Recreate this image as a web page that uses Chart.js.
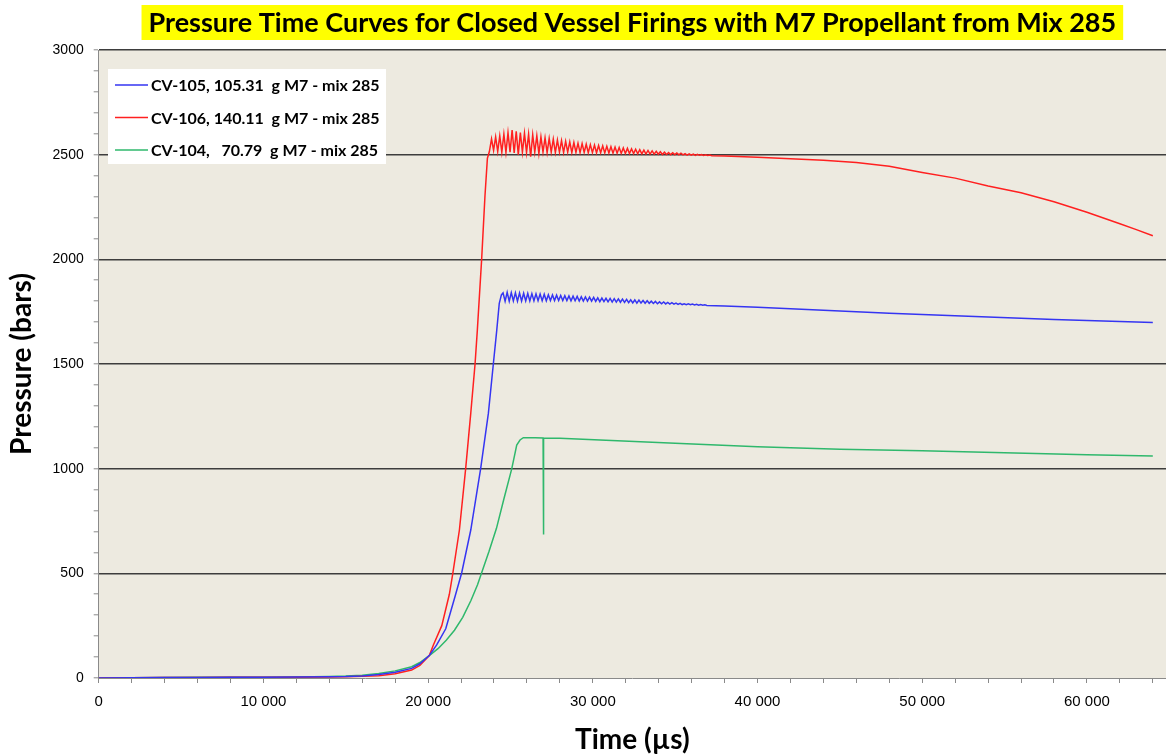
<!DOCTYPE html>
<html>
<head>
<meta charset="utf-8">
<script src="https://cdn.jsdelivr.net/npm/chart.js@4.4.0/dist/chart.umd.min.js"></script>
<style>
    html, body { margin: 0; padding: 0; background: #fff; }
    #wrap { width: 1166px; height: 756px; position: relative; }
</style>
</head>
<body>
<div id="wrap"><canvas id="chartPresion"></canvas></div>
<script>
const tituloGrafico = 'Pressure Time Curves for Closed Vessel Firings with M7 Propellant from Mix 285';
const seriesLabels = [
    'CV-105, 105.31  g M7 - mix 285',
    'CV-106, 140.11  g M7 - mix 285',
    'CV-104,   70.79  g M7 - mix 285'
];
const seriesColors = ['#3535f2', '#ff2020', '#2fb86c'];

// marcas del eje x (cada 2000 us, etiqueta cada 10000)
const xTickValues = [0, 2000, 4000, 6000, 8000, 10000, 12000, 14000, 16000, 18000, 20000, 22000, 24000,
    26000, 28000, 30000, 32000, 34000, 36000, 38000, 40000, 42000, 44000, 46000, 48000, 50000,
    52000, 54000, 56000, 58000, 60000, 62000, 64000];

// CV-105 (azul)
const blueTime = [0, 2000, 4000, 6000, 8000, 10000, 12000, 14000, 15000, 16000, 17000, 18000, 19000, 19500,
    20070, 20520, 21070, 21630, 22040, 22590, 23190, 23660, 23960, 24170, 24320, 24450,
    24550, 24675, 24800, 24925,
    25050, 25175, 25300, 25425, 25550, 25675, 25800, 25925, 26050, 26175, 26300, 26425, 26550, 26675, 26800, 26925,
    27050, 27175, 27300, 27425, 27550, 27675, 27800, 27925, 28050, 28175, 28300, 28425, 28550, 28675, 28800, 28925,
    29050, 29175, 29300, 29425, 29550, 29675, 29800, 29925, 30050, 30175, 30300, 30425, 30550, 30675, 30800, 30925,
    31050, 31175, 31300, 31425, 31550, 31675, 31800, 31925, 32050, 32175, 32300, 32425, 32550, 32675, 32800, 32925,
    33050, 33175, 33300, 33425, 33550, 33675, 33800, 33925, 34050, 34175, 34300, 34425, 34550, 34675, 34800, 34925,
    35050, 35175, 35300, 35425, 35550, 35675, 35800, 35925, 36050, 36175, 36300, 36425, 36550, 36675, 36800, 36925,
    38000, 40000, 42000, 44000, 46000, 48000, 50000, 52000, 54000, 56000, 58000, 60000, 62000, 64000];
const bluePressure = [0, 1, 2, 2, 3, 4, 5, 6, 7, 10, 17, 27, 46, 68,
    107, 158, 235, 388, 503, 707, 1000, 1265, 1500, 1663, 1790, 1830,
    1840, 1800, 1842, 1800,
    1841, 1801, 1840, 1800, 1839, 1801, 1838, 1801, 1837, 1801, 1836, 1802, 1835, 1802, 1834, 1802,
    1833, 1802, 1831, 1803, 1830, 1803, 1829, 1803, 1827, 1803, 1826, 1803, 1825, 1802, 1824, 1802,
    1823, 1801, 1821, 1801, 1820, 1800, 1819, 1800, 1818, 1799, 1816, 1798, 1815, 1798, 1814, 1797,
    1813, 1796, 1812, 1796, 1811, 1795, 1810, 1794, 1809, 1793, 1807, 1792, 1806, 1791, 1805, 1791,
    1803, 1790, 1802, 1790, 1800, 1789, 1799, 1788, 1797, 1788, 1796, 1787, 1794, 1786, 1793, 1786,
    1791, 1785, 1790, 1784, 1788, 1783, 1787, 1783, 1786, 1782, 1785, 1781, 1784, 1781, 1783, 1780,
    1777, 1771, 1764, 1757, 1750, 1743, 1736, 1730, 1724, 1718, 1713, 1708, 1703, 1698];

// CV-106 (rojo)
const redTime = [0, 2000, 4000, 6000, 8000, 10000, 12000, 14000, 15000, 16000, 17000, 18000, 19000, 19500,
    20070, 20320, 20830, 21290, 21490, 21900, 22280, 22590, 22850, 22990, 23250, 23450, 23600, 23720,
    23850, 23975, 24100, 24225, 24350, 24475, 24600, 24725, 24850, 24975,
    25100, 25225, 25350, 25475, 25600, 25725, 25850, 25975, 26100, 26225, 26350, 26475, 26600, 26725, 26850, 26975,
    27100, 27225, 27350, 27475, 27600, 27725, 27850, 27975, 28100, 28225, 28350, 28475, 28600, 28725, 28850, 28975,
    29100, 29225, 29350, 29475, 29600, 29725, 29850, 29975, 30100, 30225, 30350, 30475, 30600, 30725, 30850, 30975,
    31100, 31225, 31350, 31475, 31600, 31725, 31850, 31975, 32100, 32225, 32350, 32475, 32600, 32725, 32850, 32975,
    33100, 33225, 33350, 33475, 33600, 33725, 33850, 33975, 34100, 34225, 34350, 34475, 34600, 34725, 34850, 34975,
    35100, 35225, 35350, 35475, 35600, 35725, 35850, 35975, 36100, 36225, 36350, 36475, 36600, 36725, 36850, 36975,
    37100, 37225,
    38000, 40000, 42000, 44000, 46000, 48000, 50000, 52000, 54000, 56000, 58000, 60000, 62000, 63000, 64000];
const redPressure = [0, 1, 2, 2, 3, 4, 4, 5, 6, 8, 11, 20, 38, 60,
    107, 158, 250, 400, 495, 707, 1000, 1265, 1500, 1663, 2000, 2300, 2483, 2515,
    2575, 2520, 2585, 2515, 2590, 2512, 2598, 2510, 2605, 2512,
    2618, 2508, 2612, 2500, 2605, 2512, 2602, 2510, 2598, 2490, 2595, 2512, 2590, 2505, 2585, 2512,
    2580, 2510, 2578, 2512, 2574, 2510, 2570, 2512, 2567, 2510, 2564, 2512, 2561, 2510, 2558, 2511,
    2555, 2510, 2553, 2511, 2550, 2510, 2548, 2510, 2546, 2509, 2544, 2509, 2542, 2508, 2540, 2508,
    2538, 2507, 2536, 2507, 2534, 2506, 2532, 2506, 2530, 2505, 2528, 2505, 2526, 2504, 2524, 2504,
    2522, 2503, 2520, 2503, 2518, 2502, 2516, 2502, 2514, 2501, 2512, 2501, 2510, 2500, 2509, 2500,
    2508, 2499, 2507, 2499, 2505, 2498, 2504, 2498, 2503, 2497, 2502, 2497, 2500, 2496, 2499, 2496,
    2498, 2495,
    2494, 2488, 2481, 2473, 2463, 2445, 2415, 2388, 2350, 2318, 2275, 2225, 2170, 2142, 2113];

// CV-104 (verde)
const greenTime = [0, 2000, 4000, 6000, 8000, 10000, 12000, 14000, 15000, 16000, 17000, 18000, 19000, 19500,
    20070, 20600, 21100, 21600, 22100, 22600, 23000, 23250,
    23700, 24150, 24600, 25080, 25380, 25580, 25780,
    26500, 26980, 27000, 27020, 28000, 30440,
    35000, 40000, 45000, 50000, 55000, 60000, 64000];
const greenPressure = [0, 1, 2, 3, 3, 4, 5, 7, 9, 13, 22, 34, 54, 74,
    107, 140, 180, 228, 290, 370, 445, 503,
    605, 715, 855, 1000, 1113, 1137, 1148,
    1148, 1147, 686, 1147, 1145, 1137,
    1122, 1105, 1093, 1085, 1076, 1067, 1061];

const xMax = 64800;
const yMax = 3000;

function puntos(tiempos, presiones) {
    return tiempos.map((t, i) => ({ x: t, y: presiones[i] }));
}

function formatoMiles(v) {
    return String(v).replace(/\B(?=(\d{3})+(?!\d))/g, ' ');
}

// fondo del area, caja amarilla del titulo y leyenda dentro del grafico
const decoracionPlugin = {
    id: 'decoracion',
    beforeDraw(chart) {
        const { ctx, chartArea: a } = chart;
        ctx.save();
        ctx.fillStyle = '#edeae0';
        ctx.fillRect(a.left, a.top, a.right - a.left, a.bottom - a.top);

        const t = chart.titleBlock;
        const f = chart.options.plugins.title.font;
        ctx.font = `bold ${f.size}px ${f.family}`;
        const w = ctx.measureText(tituloGrafico).width;
        const cx = (t.left + t.right) / 2;
        ctx.fillStyle = '#ffff00';
        ctx.fillRect(cx - w / 2 - 7, 5, w + 14, 35);
        ctx.restore();
    },
    afterDatasetsDraw(chart) {
        const ctx = chart.ctx;
        ctx.save();
        ctx.fillStyle = '#ffffff';
        ctx.fillRect(108, 69, 278, 95);
        const filas = [85, 117.5, 150];
        ctx.font = 'bold 16px Lato';
        ctx.textBaseline = 'middle';
        ctx.textAlign = 'left';
        seriesLabels.forEach((lbl, i) => {
            ctx.strokeStyle = seriesColors[i];
            ctx.lineWidth = 1.5;
            ctx.beginPath();
            ctx.moveTo(115, filas[i]);
            ctx.lineTo(148, filas[i]);
            ctx.stroke();
            ctx.fillStyle = '#000';
            ctx.fillText(lbl, 151, filas[i] + 1);
        });
        ctx.restore();
    }
};

function crearGraficoPresion(id) {
    const series = [
        puntos(blueTime, bluePressure),
        puntos(redTime, redPressure),
        puntos(greenTime, greenPressure)
    ];
    const fuenteTitulo = { family: 'Lato', size: 28, weight: 'bold', lineHeight: 1.1 };

    new Chart(document.getElementById(id), {
        type: 'line',
        data: {
            datasets: series.map((d, i) => ({
                label: seriesLabels[i],
                data: d,
                borderColor: seriesColors[i],
                borderWidth: 1.5,
                pointRadius: 0,
                tension: 0,
                fill: false
            }))
        },
        options: {
            responsive: true,
            maintainAspectRatio: false,
            animation: false,
            layout: { padding: 0 },
            plugins: {
                legend: { display: false },
                tooltip: { enabled: false },
                title: {
                    display: true,
                    fullSize: false,
                    text: tituloGrafico,
                    color: '#000',
                    font: { family: 'Lato', size: 27, weight: 'bold', lineHeight: 1.1 },
                    padding: { top: 8, bottom: 12.3 }
                }
            },
            scales: {
                x: {
                    type: 'linear',
                    min: 0,
                    max: xMax,
                    afterBuildTicks: s => { s.ticks = xTickValues.map(v => ({ value: v })); },
                    ticks: {
                        autoSkip: false,
                        maxRotation: 0,
                        padding: 10,
                        color: '#000',
                        font: { family: 'Liberation Sans', size: 15 },
                        callback: v => v % 10000 === 0 ? formatoMiles(v) : ''
                    },
                    grid: { drawOnChartArea: false, tickLength: 5, color: '#8a8a8a' },
                    border: { color: '#8a8a8a', width: 1 },
                    title: {
                        display: true,
                        text: 'Time (µs)',
                        color: '#000',
                        font: fuenteTitulo,
                        padding: { top: 0, bottom: 1 }
                    },
                    afterFit: s => { s.height = 78; }
                },
                y: {
                    min: 0,
                    max: yMax,
                    ticks: {
                        stepSize: 100,
                        autoSkip: false,
                        padding: 10,
                        color: '#000',
                        font: { family: 'Liberation Sans', size: 14 },
                        callback: v => v % 500 === 0 ? String(v) : ''
                    },
                    grid: {
                        color: c => (c.tick && c.tick.value > 0 && c.tick.value % 500 === 0) ? '#3d3d3d' : 'rgba(0,0,0,0)',
                        lineWidth: 1.6,
                        tickColor: '#8a8a8a',
                        tickWidth: 1,
                        tickLength: 5
                    },
                    border: { color: '#8a8a8a', width: 1 },
                    title: {
                        display: true,
                        text: 'Pressure (bars)',
                        color: '#000',
                        font: fuenteTitulo,
                        padding: { top: 6.5, bottom: 0 }
                    },
                    afterFit: s => { s.width = 98.7; }
                }
            }
        },
        plugins: [decoracionPlugin]
    });
}

crearGraficoPresion('chartPresion');
</script>
</body>
</html>
